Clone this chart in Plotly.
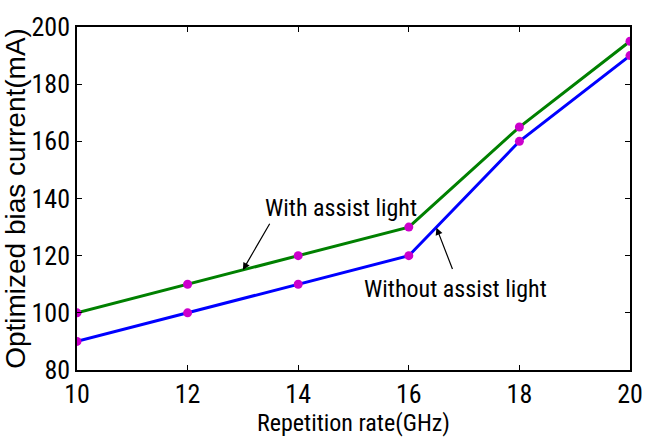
import plotly.graph_objects as go

rate = [10, 12, 14, 16, 18, 20]
with_assist = [100, 110, 120, 130, 165, 195]
without_assist = [90, 100, 110, 120, 160, 190]
x_ticks = [10, 12, 14, 16, 18, 20]
y_ticks = [80, 100, 120, 140, 160, 180, 200]

FONT = "Roboto Condensed, Liberation Sans, Arial"
YFONT = "Liberation Sans, Arial"

fig = go.Figure()
fig.add_trace(go.Scatter(x=rate, y=with_assist, mode="lines+markers",
                         line=dict(color="#008000", width=3),
                         marker=dict(color="#CC00CC", size=9), name="With assist light"))
fig.add_trace(go.Scatter(x=rate, y=without_assist, mode="lines+markers",
                         line=dict(color="#0000FF", width=3),
                         marker=dict(color="#CC00CC", size=9), name="Without assist light"))

fig.add_annotation(x=13.0, y=115, ax=13.5, ay=131.7, xref="x", yref="y", axref="x", ayref="y",
                   text="", showarrow=True, arrowhead=2, arrowsize=1.2, arrowwidth=1.2, arrowcolor="black")
fig.add_annotation(x=14.77, y=136.8, xref="x", yref="y", text="With assist light", showarrow=False,
                   font=dict(family=FONT, size=24, color="black"))
fig.add_annotation(x=16.5, y=129.8, ax=16.8, ay=114.8, xref="x", yref="y", axref="x", ayref="y",
                   text="", showarrow=True, arrowhead=2, arrowsize=1.2, arrowwidth=1.2, arrowcolor="black")
fig.add_annotation(x=16.85, y=108.5, xref="x", yref="y", text="Without assist light", showarrow=False,
                   font=dict(family=FONT, size=24, color="black"))

axis_common = dict(showgrid=False, zeroline=False, showline=True, linecolor="black", linewidth=1.5,
                   mirror="ticks", ticks="inside", ticklen=5, tickcolor="black",
                   tickfont=dict(family=FONT, size=26, color="black"))
fig.update_xaxes(range=[10, 20], tickvals=x_ticks, ticktext=[str(v) for v in x_ticks],
                 title=dict(text="Repetition rate(GHz)", font=dict(family=FONT, size=24, color="black"), standoff=0),
                 **axis_common)
fig.update_yaxes(range=[80, 200], tickvals=y_ticks, ticktext=[str(v) for v in y_ticks],
                 title=dict(text="Optimized bias current(mA)", font=dict(family=YFONT, size=28, color="black"), standoff=0),
                 **axis_common)

fig.update_layout(width=655, height=438, margin=dict(l=77, r=23, t=18, b=62),
                  plot_bgcolor="white", paper_bgcolor="white", showlegend=False)
fig.write_html("out.html")
